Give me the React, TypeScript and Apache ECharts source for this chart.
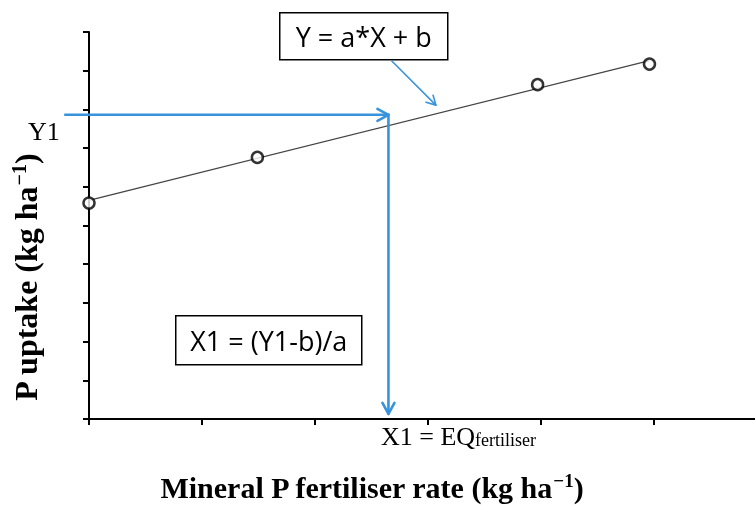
import React, { useEffect, useRef } from "react";
import * as echarts from "echarts";

// Observed points (x: fertiliser rate, y: P uptake), arbitrary units
const obsX = [0, 1.49, 3.97, 4.96];
const obsY = [5.58, 6.76, 8.64, 9.17];
// Fitted regression line Y = a*X + b
const fitX = [0, 4.96];
const fitY = [5.65, 9.26];
// Reading of Y1 and the derived X1
const Y1 = 7.86;
const X1 = 2.65;
const arrowStartX = -0.21;
const arrowEndY = 0.13;
// Arrow from equation box towards the fitted line: [x0, y0, x1, y1]
const eqArrow = [2.68, 9.25, 3.07, 8.11];

const xMin = 0, xMax = 5, xInterval = 1;
const yMin = 0, yMax = 10, yInterval = 1;

const BLUE = "#3793DB";

export default function App() {
  const ref = useRef<HTMLDivElement>(null);
  useEffect(() => {
    const chart = echarts.init(ref.current!, null, { renderer: "svg" });
    const arrows = [
      { value: [arrowStartX, Y1, X1, Y1], head: 11, w: 6, lw: 2.6 },
      { value: [X1, Y1, X1, arrowEndY], head: 11, w: 6, lw: 2.6 },
      { value: eqArrow, head: 9, w: 5, lw: 1.6 },
    ];
    const supStyle = (fs: number) => ({ fontFamily: "Liberation Serif", fontWeight: "bold", fontSize: fs, color: "#000", verticalAlign: "top", padding: [0, 0, 13, 0] });
    chart.setOption({
      animation: false,
      grid: { left: 89, right: 101, top: 32, bottom: 86, outerBoundsMode: "none", containLabel: false },
      xAxis: {
        type: "value",
        min: xMin,
        max: xMax,
        interval: xInterval,
        name: "Mineral P fertiliser rate (kg ha{sup|−1})",
        nameLocation: "middle",
        nameGap: 52,
        nameTextStyle: {
          fontFamily: "Liberation Serif",
          fontWeight: "bold",
          fontSize: 30,
          color: "#000",
          rich: { sup: supStyle(19) },
        },
        axisLine: { lineStyle: { color: "#000", width: 2 } },
        axisTick: { show: true, length: 6, inside: false, lineStyle: { color: "#000", width: 2 } },
        axisLabel: { show: false },
        splitLine: { show: false },
      },
      yAxis: {
        type: "value",
        min: yMin,
        max: yMax,
        interval: yInterval,
        name: "P uptake (kg ha{sup|−1})",
        nameLocation: "middle",
        nameGap: 47,
        nameRotate: 90,
        nameTextStyle: {
          fontFamily: "Liberation Serif",
          fontWeight: "bold",
          fontSize: 32,
          color: "#000",
          padding: [0, 104, 0, 0],
          rich: { sup: supStyle(20) },
        },
        axisLine: { show: true, lineStyle: { color: "#000", width: 2 } },
        axisTick: { show: true, length: 6, inside: false, lineStyle: { color: "#000", width: 2 } },
        axisLabel: { show: false },
        splitLine: { show: false },
      },
      series: [
        {
          type: "line",
          name: "fit",
          data: fitX.map((x, i) => [x, fitY[i]]),
          showSymbol: false,
          symbol: "none",
          lineStyle: { color: "#444", width: 1.2 },
          z: 2,
        },
        {
          type: "scatter",
          name: "observed",
          data: obsX.map((x, i) => [x, obsY[i]]),
          symbol: "circle",
          symbolSize: 11,
          itemStyle: { color: "#fff", borderColor: "#000", borderWidth: 2.5 },
          z: 3,
        },
        {
          type: "custom",
          name: "arrows",
          clip: false,
          z: 4,
          encode: { x: [0, 2], y: [1, 3] },
          data: arrows,
          renderItem: (params: any, api: any) => {
            const a = arrows[params.dataIndex];
            const p0 = api.coord([api.value(0), api.value(1)]);
            const p1 = api.coord([api.value(2), api.value(3)]);
            const dx = p1[0] - p0[0], dy = p1[1] - p0[1];
            const len = Math.sqrt(dx * dx + dy * dy) || 1;
            const ux = dx / len, uy = dy / len;
            const nx = -uy, ny = ux;
            const L = a.head, W = a.w;
            const style = { stroke: BLUE, lineWidth: a.lw, fill: null, lineCap: "round", lineJoin: "round" };
            return {
              type: "group",
              children: [
                { type: "line", shape: { x1: p0[0], y1: p0[1], x2: p1[0], y2: p1[1] }, style },
                {
                  type: "polyline",
                  shape: {
                    points: [
                      [p1[0] - ux * L + nx * W, p1[1] - uy * L + ny * W],
                      [p1[0], p1[1]],
                      [p1[0] - ux * L - nx * W, p1[1] - uy * L - ny * W],
                    ],
                  },
                  style,
                },
              ],
            };
          },
        },
      ],
      graphic: [
        // extension of the x axis line to the right edge
        { type: "line", shape: { x1: 654, y1: 419, x2: 755, y2: 419 }, style: { stroke: "#000", lineWidth: 2 }, z: 1 },
        {
          type: "group",
          left: 279,
          top: 12,
          children: [
            { type: "rect", shape: { x: 0, y: 0, width: 168, height: 47 }, style: { fill: "#fff", stroke: "#000", lineWidth: 1.5 } },
            { type: "text", x: 84, y: 24, style: { text: "Y = a*X + b", fontFamily: "Open Sans", fontSize: 27, fill: "#000", align: "center", verticalAlign: "middle" } },
          ],
        },
        {
          type: "group",
          left: 175,
          top: 315,
          children: [
            { type: "rect", shape: { x: 0, y: 0, width: 186, height: 49 }, style: { fill: "#fff", stroke: "#000", lineWidth: 1.5 } },
            { type: "text", x: 93, y: 25, style: { text: "X1 = (Y1-b)/a", fontFamily: "Open Sans", fontSize: 27, fill: "#000", align: "center", verticalAlign: "middle" } },
          ],
        },
        {
          type: "text",
          left: 28,
          top: 118,
          style: { text: "Y1", fontFamily: "Liberation Serif", fontSize: 26, fill: "#000" },
        },
        {
          type: "text",
          left: 381,
          top: 423,
          style: {
            text: "X1 = EQ{sub|fertiliser}",
            fontFamily: "Liberation Serif",
            fontSize: 26,
            fill: "#000",
            rich: {
              sub: { fontFamily: "Liberation Serif", fontSize: 18, fill: "#000", verticalAlign: "bottom", padding: [8, 0, 0, 0] },
            },
          },
        },
      ],
    });
    return () => chart.dispose();
  }, []);
  return <div ref={ref} style={{ position: "fixed", left: 0, top: 0, width: 755, height: 505 }} />;
}
